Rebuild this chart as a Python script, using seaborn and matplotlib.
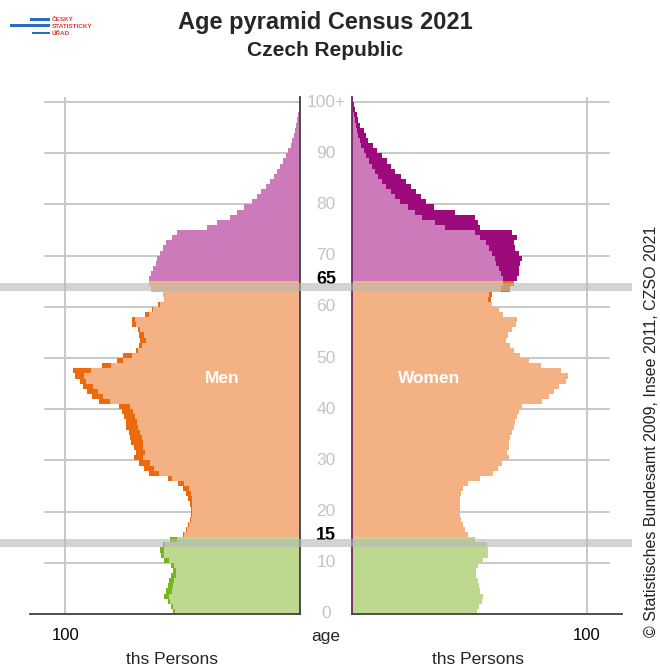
import numpy as np
import pandas as pd
import seaborn as sns
import matplotlib.pyplot as plt
from matplotlib.patches import Rectangle
from matplotlib import transforms

sns.set_style('white')
plt.rcParams['font.family'] = ['Liberation Sans', 'DejaVu Sans']

# population in thousands, ages 0..100+
ages = list(range(0, 101))
men = [54.3, 55.0, 56.4, 57.8, 57.0, 56.4, 55.6, 54.9, 54.3, 54.9,
       57.8, 59.2, 59.6, 58.2, 55.5, 50.0, 48.5, 47.8, 47.0, 46.4,
       46.4, 47.0, 47.8, 48.5, 50.0, 52.0, 56.4, 64.2, 66.4, 68.5,
       70.7, 70.0, 70.7, 72.0, 72.5, 73.0, 74.0, 74.3, 75.0, 75.7,
       77.2, 85.8, 88.6, 90.8, 92.3, 93.7, 95.9, 96.6, 84.3, 78.0,
       75.5, 70.0, 68.5, 68.0, 68.5, 69.0, 71.5, 71.5, 66.0, 63.0,
       60.6, 58.0, 58.5, 63.5, 64.5, 64.2, 63.5, 62.5, 61.5, 60.8,
       59.5, 58.5, 57.0, 54.5, 52.5, 39.8, 35.4, 29.7, 27.0, 24.0,
       20.4, 18.3, 16.5, 14.5, 12.8, 11.2, 9.8, 8.5, 7.2, 6.0,
       4.9, 4.0, 3.2, 2.6, 2.0, 1.5, 1.1, 0.8, 0.6, 0.4, 0.3]
women = [53.3, 54.2, 55.2, 55.6, 54.7, 54.2, 53.7, 53.0, 53.0, 53.7,
         55.9, 58.0, 58.0, 57.3, 52.3, 49.4, 48.0, 47.3, 46.6, 46.1,
         45.8, 45.8, 46.1, 46.6, 47.3, 49.4, 54.5, 60.2, 62.3, 63.8,
         66.7, 66.0, 66.7, 67.0, 67.4, 68.0, 68.8, 69.5, 70.3, 71.0,
         72.4, 81.0, 83.9, 86.0, 88.2, 91.0, 91.8, 89.0, 80.3, 75.3,
         71.7, 68.8, 67.4, 65.5, 66.5, 68.0, 70.0, 70.3, 64.5, 62.5,
         59.5, 59.0, 59.8, 67.4, 68.8, 70.3, 71.0, 71.0, 71.7, 72.4,
         71.0, 69.5, 68.8, 70.3, 68.0, 54.4, 53.7, 52.3, 44.0, 35.0,
         31.5, 29.3, 27.2, 25.0, 22.8, 20.7, 18.5, 16.4, 15.0, 12.8,
         10.6, 8.8, 7.0, 5.9, 4.9, 3.5, 2.7, 2.0, 1.4, 0.8, 0.5]
age_labels = ['0', '10', '20', '30', '40', '50', '60', '70', '80', '90', '100+']
label_ages = [0, 10, 20, 30, 40, 50, 60, 70, 80, 90, 100]

df = pd.DataFrame({'age': ages, 'men': men, 'women': women})
df['pos'] = df['age'] + 0.5
df['common'] = np.minimum(df['men'], df['women'])
df['group'] = np.where(df['age'] < 15, 'young', np.where(df['age'] < 65, 'working', 'old'))

light = {'young': '#bdd88f', 'working': '#f4b183', 'old': '#cc7aba'}
dark = {'young': '#78b41e', 'working': '#ec6a0c', 'old': '#9c0a7c'}
grid_c = '#c8c8c8'

fig = plt.figure(figsize=(6.6, 6.68), dpi=100)
axL = fig.add_axes([30/660, 54/668, 270/660, 517/668])
axR = fig.add_axes([352/660, 54/668, 270/660, 517/668])

for ax, col in [(axL, 'men'), (axR, 'women')]:
    sns.barplot(data=df, x=col, y='pos', hue='group', palette=dark, orient='h',
                native_scale=True, width=1, dodge=False, errorbar=None, saturation=1,
                linewidth=0, legend=False, ax=ax)
    sns.barplot(data=df, x='common', y='pos', hue='group', palette=light, orient='h',
                native_scale=True, width=1, dodge=False, errorbar=None, saturation=1,
                linewidth=0, legend=False, ax=ax)
    for p in ax.patches:
        p.set_linewidth(0)
        p.set_antialiased(False)
        p.set_zorder(2)
    ax.set_ylim(0, 101)
    ax.set_xlabel('')
    ax.set_ylabel('')
    ax.set_yticks([])
    ax.set_xticks([100])
    ax.set_xticklabels(['100'], fontsize=12)
    ax.tick_params(axis='x', length=6, width=1.4, color=grid_c, pad=4, labelcolor='black')
    ax.axvline(100, color=grid_c, lw=1.4, zorder=0)
    for s in ['top', 'left', 'right', 'bottom']:
        ax.spines[s].set_visible(False)
    ax.spines['bottom'].set_visible(True)
    ax.spines['bottom'].set_color('#404040')
    ax.spines['bottom'].set_linewidth(1.3)
    ax.spines['bottom'].set_zorder(3)

axL.set_xlim(115, 0)
axR.set_xlim(0, 115)
axL.spines['right'].set_visible(True)
axL.spines['right'].set_color('#404040')
axL.spines['right'].set_linewidth(1.3)
axR.spines['left'].set_visible(True)
axR.spines['left'].set_color('#6a2a60')
axR.spines['left'].set_linewidth(1.3)

for y in range(10, 101, 10):
    axL.axhline(y, xmin=0.055, xmax=1, color=grid_c, lw=1.4, zorder=0)
    axR.axhline(y, xmin=0, xmax=0.95, color=grid_c, lw=1.4, zorder=0)

axL.text(33, 46, 'Men', color='white', fontsize=12.5, fontweight='bold', ha='center', va='center', zorder=5)
axR.text(33, 46, 'Women', color='white', fontsize=12.5, fontweight='bold', ha='center', va='center', zorder=5)

# centre age scale
tr = transforms.blended_transform_factory(fig.transFigure, axL.transData)
for a, lab in zip(label_ages, age_labels):
    fig.text(326/660, a, lab, transform=tr, ha='center', va='center', fontsize=12.5, color='#c4c4c4')
fig.text(326/660, 65.4, '65', transform=tr, ha='center', va='center', fontsize=13, fontweight='bold', color='black')
fig.text(326/660, 15.4, '15', transform=tr, ha='center', va='center', fontsize=13, fontweight='bold', color='black')

# grey age-group bands
for y0 in [13.1, 63.1]:
    fig.add_artist(Rectangle((0, y0), 632/660, 1.6, transform=tr, facecolor='#b7b7b7',
                             alpha=0.6, edgecolor='none', zorder=4))

fig.text(326/660, 1 - 636/668, 'age', ha='center', va='center', fontsize=12.5)
fig.text(172/660, 1 - 660/668, 'ths Persons', ha='center', va='center', fontsize=12.5)
fig.text(478/660, 1 - 660/668, 'ths Persons', ha='center', va='center', fontsize=12.5)

fig.text(325/660, 1 - 23/668, 'Age pyramid Census 2021', ha='center', va='center',
         fontsize=17, fontweight='bold')
fig.text(325/660, 1 - 50/668, 'Czech Republic', ha='center', va='center',
         fontsize=15, fontweight='bold')

fig.text(651/660, 1 - 431/668, '\u00a9 Statistisches Bundesamt 2009, Insee 2011, CZSO 2021',
         rotation=90, ha='center', va='center', fontsize=11.5, color='#222222')

# logo
blue = '#2a6ebb'
for x0, x1, yc in [(30, 50, 19.5), (10, 50, 25.3), (32, 50, 33)]:
    fig.add_artist(Rectangle((x0/660, 1 - (yc + 1.4)/668), (x1 - x0)/660, 2.8/668,
                             transform=fig.transFigure, facecolor=blue, edgecolor='none'))
for txt, yc in [('ČESKÝ', 19.5), ('STATISTICKÝ', 26), ('ÚŘAD', 33)]:
    fig.text(52/660, 1 - yc/668, txt, ha='left', va='center', fontsize=4.6,
             fontweight='bold', color='#e03a3a')

fig.savefig('out.png', dpi=100)
